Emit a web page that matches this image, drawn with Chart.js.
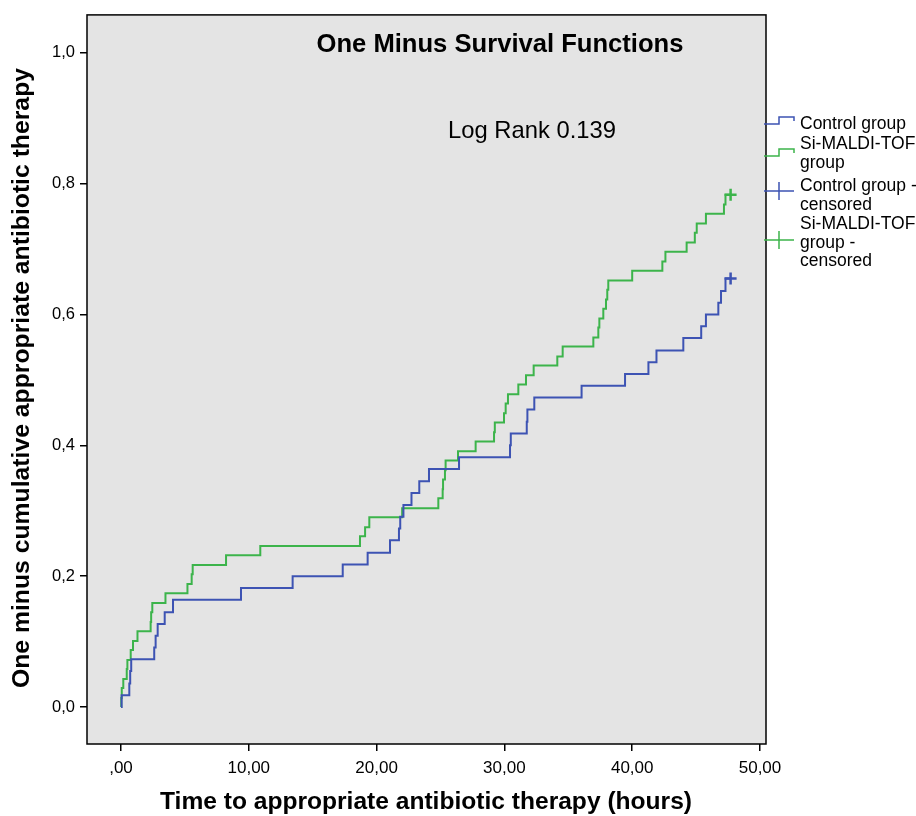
<!DOCTYPE html>
<html>
<head>
<meta charset="utf-8">
<script src="https://cdn.jsdelivr.net/npm/chart.js@4/dist/chart.umd.min.js"></script>
<style>
    body { margin: 0; background: #ffffff; }
</style>
</head>
<body>
<canvas id="kmChart" width="916" height="816"></canvas>
<script>
// Kaplan-Meier "one minus survival" steps
const controlTimes = [0, 0.05, 0.65, 0.72, 0.8, 2.6, 2.71, 2.87, 3.42, 4.07, 9.39, 13.43, 17.35, 19.3, 21.05, 21.75, 21.85, 22.1, 22.73, 23.34, 24.1, 26.45, 30.44, 30.5, 31.75, 31.8, 32.34, 36.04, 39.44, 41.27, 41.9, 44.0, 45.4, 45.77, 46.74, 46.95, 47.3, 47.7];
const controlValues = [0, 0.018, 0.036, 0.055, 0.073, 0.091, 0.109, 0.127, 0.145, 0.164, 0.182, 0.2, 0.218, 0.236, 0.255, 0.273, 0.291, 0.309, 0.327, 0.345, 0.364, 0.382, 0.4, 0.418, 0.436, 0.455, 0.473, 0.491, 0.509, 0.527, 0.545, 0.564, 0.582, 0.6, 0.618, 0.636, 0.655, 0.655];

const maldiTimes = [0, 0.02, 0.06, 0.18, 0.45, 0.5, 0.76, 0.94, 1.29, 2.32, 2.36, 2.45, 3.48, 5.2, 5.53, 5.61, 8.22, 10.9, 18.7, 19.1, 19.43, 22.0, 24.83, 25.17, 25.2, 25.35, 25.4, 26.37, 27.75, 29.19, 29.25, 29.97, 30.1, 30.28, 31.09, 31.69, 32.29, 34.14, 34.56, 36.96, 37.35, 37.43, 37.74, 37.95, 38.05, 38.13, 40.0, 42.36, 42.6, 44.26, 44.9, 45.05, 45.77, 47.18, 47.3, 47.7];
const maldiValues = [0, 0.014, 0.029, 0.043, 0.058, 0.072, 0.087, 0.101, 0.116, 0.13, 0.145, 0.159, 0.174, 0.188, 0.203, 0.217, 0.232, 0.246, 0.261, 0.275, 0.29, 0.304, 0.319, 0.333, 0.348, 0.362, 0.377, 0.391, 0.406, 0.42, 0.435, 0.449, 0.464, 0.478, 0.493, 0.507, 0.522, 0.536, 0.551, 0.565, 0.58, 0.594, 0.609, 0.623, 0.638, 0.652, 0.667, 0.681, 0.696, 0.71, 0.725, 0.739, 0.754, 0.768, 0.783, 0.783];

const controlCensorTimes = [47.7];
const controlCensorValues = [0.655];
const maldiCensorTimes = [47.7];
const maldiCensorValues = [0.783];

const xTickValues = [0, 10, 20, 30, 40, 50];
const xTickLabels = [",00", "10,00", "20,00", "30,00", "40,00", "50,00"];
const yTickValues = [0, 0.2, 0.4, 0.6, 0.8, 1.0];
const yTickLabels = ["0,0", "0,2", "0,4", "0,6", "0,8", "1,0"];

const legendLabels = [
    ["Control group"],
    ["Si-MALDI-TOF", "group"],
    ["Control group -", "censored"],
    ["Si-MALDI-TOF", "group -", "censored"]
];

const BLUE = "#3d53b3";
const GREEN = "#3cb44b";
const FONT = "'Liberation Sans', Arial, sans-serif";

function toPoints(xs, ys) {
    return xs.map(function (x, i) { return { x: x, y: ys[i] }; });
}

// draws text centred on (x, y), stretched along its own direction to a given width
function fittedText(ctx, text, x, y, width, font, angle) {
    ctx.save();
    ctx.font = font;
    ctx.translate(x, y);
    ctx.rotate(angle || 0);
    ctx.scale(width / ctx.measureText(text).width, 1);
    ctx.fillText(text, 0, 0);
    ctx.restore();
}

// background, frame, titles and the SPSS-like legend
const decorations = {
    id: "decorations",
    beforeDraw(chart) {
        const { ctx, chartArea: a } = chart;
        ctx.save();
        ctx.fillStyle = "#e4e4e4";
        ctx.fillRect(a.left, a.top, a.right - a.left, a.bottom - a.top);
        ctx.restore();
    },
    afterDraw(chart) {
        const { ctx, chartArea: a } = chart;
        ctx.save();
        ctx.strokeStyle = "#000";
        ctx.lineWidth = 1.5;
        ctx.strokeRect(a.left, a.top, a.right - a.left, a.bottom - a.top);

        ctx.fillStyle = "#000";
        ctx.textAlign = "center";
        ctx.textBaseline = "middle";
        fittedText(ctx, "One Minus Survival Functions", 500, 45, 367, "bold 25px " + FONT);
        fittedText(ctx, "Log Rank 0.139", 532, 131, 168, "24px " + FONT);
        fittedText(ctx, "Time to appropriate antibiotic therapy (hours)", 426, 803, 532, "bold 23px " + FONT);
        fittedText(ctx, "One minus cumulative appropriate antibiotic therapy", 23, 378, 620, "bold 23px " + FONT, -Math.PI / 2);

        // legend
        ctx.lineWidth = 1.5;
        ctx.textAlign = "left";
        ctx.font = "17.5px " + FONT;
        const stepIcon = function (color, yLow, yHigh) {
            ctx.strokeStyle = color;
            ctx.beginPath();
            ctx.moveTo(764, yLow);
            ctx.lineTo(779, yLow);
            ctx.lineTo(779, yHigh);
            ctx.lineTo(794, yHigh);
            ctx.lineTo(794, yHigh + 4);
            ctx.stroke();
        };
        const crossIcon = function (color, y) {
            ctx.strokeStyle = color;
            ctx.beginPath();
            ctx.moveTo(764, y);
            ctx.lineTo(794, y);
            ctx.moveTo(779, y - 9);
            ctx.lineTo(779, y + 9);
            ctx.stroke();
        };
        stepIcon(BLUE, 124, 117);
        stepIcon(GREEN, 156, 149);
        crossIcon(BLUE, 191);
        crossIcon(GREEN, 240);
        const starts = [124, 144, 186, 224];
        legendLabels.forEach(function (lines, i) {
            lines.forEach(function (t, j) {
                ctx.fillText(t, 800, starts[i] + j * 18.8);
            });
        });
        ctx.restore();
    }
};

const ctx = document.getElementById("kmChart").getContext("2d");
new Chart(ctx, {
    type: "line",
    data: {
        datasets: [
            {
                label: "Control group",
                data: toPoints(controlTimes, controlValues),
                borderColor: BLUE,
                borderWidth: 2,
                stepped: true,
                pointRadius: 0,
                fill: false
            },
            {
                label: "Si-MALDI-TOF group",
                data: toPoints(maldiTimes, maldiValues),
                borderColor: GREEN,
                borderWidth: 2,
                stepped: true,
                pointRadius: 0,
                fill: false
            },
            {
                label: "Control group - censored",
                data: toPoints(controlCensorTimes, controlCensorValues),
                showLine: false,
                pointStyle: "cross",
                pointRadius: 6,
                borderColor: BLUE,
                borderWidth: 2.5
            },
            {
                label: "Si-MALDI-TOF group - censored",
                data: toPoints(maldiCensorTimes, maldiCensorValues),
                showLine: false,
                pointStyle: "cross",
                pointRadius: 6,
                borderColor: GREEN,
                borderWidth: 2.5
            }
        ]
    },
    options: {
        responsive: false,
        animation: false,
        layout: { padding: { top: 14, right: 150, left: 0, bottom: 0 } },
        plugins: {
            legend: { display: false },
            tooltip: { enabled: false }
        },
        scales: {
            x: {
                type: "linear",
                min: -2.66,
                max: 50.47,
                afterFit: function (scale) { scale.height = 72; },
                afterBuildTicks: function (scale) {
                    scale.ticks = xTickValues.map(function (v) { return { value: v }; });
                },
                border: { display: false },
                grid: { drawOnChartArea: false, drawTicks: true, tickLength: 7, color: "#000", lineWidth: 1.5 },
                ticks: {
                    padding: 7,
                    color: "#000",
                    font: { family: FONT, size: 17 },
                    callback: function (v) { return xTickLabels[xTickValues.indexOf(v)]; }
                }
            },
            y: {
                min: -0.0565,
                max: 1.058,
                afterFit: function (scale) { scale.width = 87; },
                afterBuildTicks: function (scale) {
                    scale.ticks = yTickValues.map(function (v) { return { value: v }; });
                },
                border: { display: false },
                grid: { drawOnChartArea: false, drawTicks: true, tickLength: 7, color: "#000", lineWidth: 1.5 },
                ticks: {
                    padding: 5,
                    color: "#000",
                    font: { family: FONT, size: 16.5 },
                    callback: function (v) { return yTickLabels[yTickValues.indexOf(v)]; }
                }
            }
        }
    },
    plugins: [decorations]
});
</script>
</body>
</html>
